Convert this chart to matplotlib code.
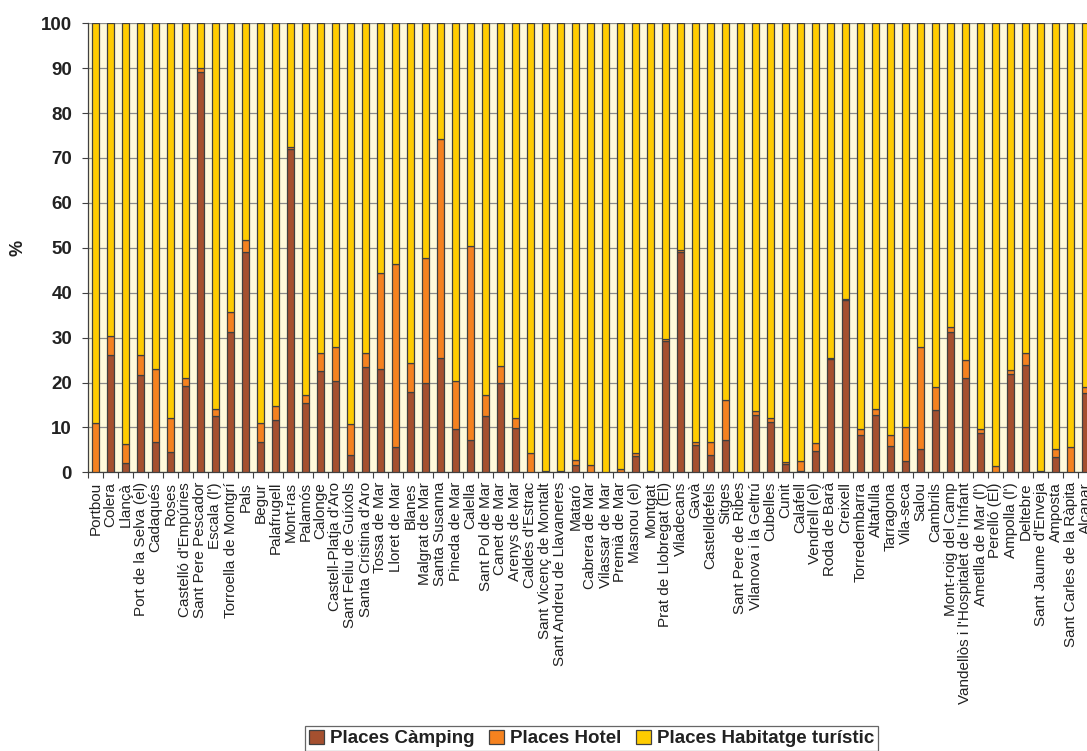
import matplotlib
matplotlib.use("Agg")
import matplotlib.pyplot as plt
import numpy as np
from matplotlib.patches import Patch

municipis = [
    "Portbou", "Colera", "Llançà", "Port de la Selva (el)", "Cadaqués", "Roses",
    "Castelló d'Empúries", "Sant Pere Pescador", "Escala (l')", "Torroella de Montgrí",
    "Pals", "Begur", "Palafrugell", "Mont-ras", "Palamós", "Calonge",
    "Castell-Platja d'Aro", "Sant Feliu de Guíxols", "Santa Cristina d'Aro",
    "Tossa de Mar", "Lloret de Mar", "Blanes", "Malgrat de Mar", "Santa Susanna",
    "Pineda de Mar", "Calella", "Sant Pol de Mar", "Canet de Mar", "Arenys de Mar",
    "Caldes d'Estrac", "Sant Vicenç de Montalt", "Sant Andreu de Llavaneres", "Mataró",
    "Cabrera de Mar", "Vilassar de Mar", "Premià de Mar", "Masnou (el)", "Montgat",
    "Prat de Llobregat (El)", "Viladecans", "Gavà", "Castelldefels", "Sitges",
    "Sant Pere de Ribes", "Vilanova i la Geltrú", "Cubelles", "Cunit", "Calafell",
    "Vendrell (el)", "Roda de Barà", "Creixell", "Torredembarra", "Altafulla",
    "Tarragona", "Vila-seca", "Salou", "Cambrils", "Mont-roig del Camp",
    "Vandellòs i l'Hospitalet de l'Infant", "Ametlla de Mar (l')", "Perelló (El)",
    "Ampolla (l')", "Deltebre", "Sant Jaume d'Enveja", "Amposta",
    "Sant Carles de la Ràpita", "Alcanar",
]

places_camping = [
    0.0, 26.1, 2.0, 21.7, 6.7, 4.5,
    19.3, 89.1, 12.5, 31.3,
    49.1, 6.7, 11.7, 71.9, 15.4, 22.6,
    20.4, 3.9, 23.5,
    23.0, 5.7, 17.8, 20.0, 25.5,
    9.7, 7.3, 12.5, 20.0, 9.9,
    0.0, 0.2, 0.3, 1.6,
    0.0, 0.0, 0.0, 3.7, 0.0,
    29.2, 49.0, 6.1, 3.9, 7.1,
    0.0, 12.8, 11.3, 1.8, 0.3,
    4.8, 25.3, 38.3, 8.3, 12.8,
    5.9, 2.6, 5.1, 13.9, 31.3,
    21.1, 8.8, 0.0,
    21.9, 23.9, 0.2, 3.5,
    0.0, 17.6,
]

places_hotel = [
    10.9, 4.3, 4.3, 4.4, 16.2, 7.5,
    1.6, 0.9, 1.6, 4.5,
    2.6, 4.2, 3.1, 0.6, 1.8, 3.9,
    7.6, 6.9, 3.0,
    21.3, 40.8, 6.5, 27.7, 48.7,
    10.7, 43.0, 4.7, 3.7, 2.1,
    4.4, 0.0, 0.0, 1.1,
    1.6, 0.0, 0.7, 0.5, 0.4,
    0.4, 0.4, 0.6, 2.9, 9.0,
    0.0, 0.9, 0.9, 0.4, 2.3,
    1.8, 0.2, 0.2, 1.3, 1.3,
    2.3, 7.6, 22.7, 5.2, 1.1,
    3.9, 0.9, 1.3,
    0.9, 2.6, 0.0, 1.8,
    5.6, 1.3,
]

places_habitatge = [round(100 - c - h, 1) for c, h in zip(places_camping, places_hotel)]

series_labels = ["Places Càmping", "Places Hotel", "Places Habitatge turístic"]
colors = ["#A5502F", "#F5821F", "#FFCC00"]

plt.rcParams['font.family'] = ['Liberation Sans', 'DejaVu Sans']

fig = plt.figure(figsize=(10.87, 7.51), dpi=100)
n = len(municipis)
spacing_px = 15.0
left = 88.0 / 1087
width = n * spacing_px / 1087
bottom = (751 - 472.3) / 751
top = (751 - 23.3) / 751
ax = fig.add_axes([left, bottom, width, top - bottom])
ax.set_facecolor("#FFFADB")

x = np.arange(n)
bw = 0.45
edge = "#404040"
b1 = np.array(places_camping)
b2 = b1 + np.array(places_hotel)
ax.bar(x, places_camping, bw, color=colors[0], edgecolor=edge, linewidth=0.9, zorder=3)
ax.bar(x, places_hotel, bw, bottom=b1, color=colors[1], edgecolor=edge, linewidth=0.9, zorder=3)
ax.bar(x, places_habitatge, bw, bottom=b2, color=colors[2], edgecolor=edge, linewidth=0.9, zorder=3)

ax.set_xlim(-0.5, n - 0.5)
ax.set_ylim(0, 100)
ax.set_yticks(np.arange(0, 101, 10))
ax.yaxis.grid(True, color="#8C8C8C", linewidth=0.9, zorder=0)
ax.set_axisbelow(True)

ax.set_xticks(x)
ax.set_xticklabels(municipis, rotation=90, fontsize=11, ha='center', va='top')
ax.tick_params(axis='x', which='major', length=0, pad=7, labelcolor='#222222')
ax.set_xticks(np.arange(-0.5, n, 1), minor=True)
ax.tick_params(axis='x', which='minor', length=4, width=0.8, color='#404040')
ax.tick_params(axis='y', length=4.5, width=0.8, color='#404040', pad=7, labelcolor='#222222')
for lab in ax.get_yticklabels():
    lab.set_fontweight('bold')
    lab.set_fontsize(13.5)

for s in ['top', 'right']:
    ax.spines[s].set_visible(False)
ax.spines['left'].set_color('#404040')
ax.spines['bottom'].set_color('#404040')
ax.spines['left'].set_linewidth(0.9)
ax.spines['bottom'].set_linewidth(0.9)

fig.text(18 / 1087, 1 - 248 / 751, "%", rotation=90, fontsize=13, fontweight='bold',
         ha='center', va='center', color='#222222')

handles = [Patch(facecolor=c, edgecolor=edge, linewidth=0.9) for c in colors]
leg = fig.legend(handles, series_labels, loc='center', bbox_to_anchor=(591.5 / 1087, 1 - 738.5 / 751),
                 ncol=3, frameon=True, fancybox=False, edgecolor='#404040',
                 prop={'weight': 'bold', 'size': 13.5}, handlelength=0.8, handleheight=0.8,
                 handletextpad=0.3, columnspacing=0.8, borderpad=0.2, borderaxespad=0)
leg.get_frame().set_linewidth(0.9)
for t in leg.get_texts():
    t.set_color('#222222')

fig.savefig("out.png", dpi=100)
